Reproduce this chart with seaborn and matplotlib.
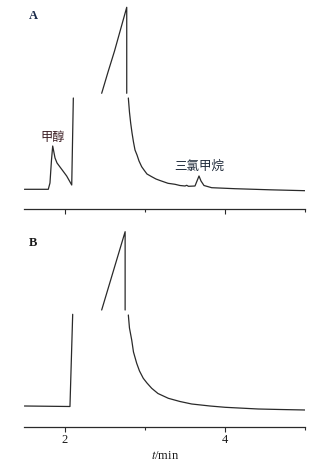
import numpy as np
import pandas as pd
import matplotlib
matplotlib.use("Agg")
import matplotlib.pyplot as plt
import seaborn as sns

# ---- data (retention time in min, detector signal in arbitrary units) ----
# Panel A: sample with methanol and chloroform, main solvent peak off-scale (broken segments)
a_t = [1.50, 1.798, 1.819, 1.838, 1.853, 1.882, 1.907, 1.944, 1.981, 2.027, 2.062, 2.090, 2.110,
       2.463, 2.542, 2.623, 2.775, 2.775,
       2.795, 2.809, 2.824, 2.841, 2.859, 2.878, 2.903, 2.928, 2.961, 2.990, 3.027, 3.086,
       3.139, 3.189, 3.289, 3.376, 3.438, 3.501, 3.522, 3.544, 3.625, 3.650,
       3.675, 3.700, 3.737, 3.833, 4.123, 4.559, 5.00]
a_sig = [19.7, 19.7, 26, 49, 63, 51, 46, 42, 38, 33, 28, 24, 111,
         115.7, 137, 158, 201.7, 115.7,
         111, 97, 86, 76, 67, 59, 54, 48, 42.3, 39, 35, 32.3,
         30, 28.5, 25.7, 24.7, 23.5, 23, 23.7, 22.7, 23, 28,
         33, 28, 23.5, 21.3, 20.3, 19.2, 18.3]
a_seg = [0]*13 + [1]*5 + [2]*(len(a_t) - 18)

# Panel B: blank, main solvent peak off-scale
b_t = [1.50, 2.068, 2.102,
       2.463, 2.755, 2.755,
       2.795, 2.809, 2.837, 2.859, 2.899, 2.934, 2.981, 3.027, 3.086, 3.164, 3.293, 3.438,
       3.584, 3.812, 4.00, 4.413, 4.684, 5.00]
b_sig = [21, 20.5, 112.7,
         117, 195.3, 117,
         112, 99, 87, 75, 63.7, 56, 48.7, 44, 38.7, 33.5, 28.7, 25.5,
         23, 21, 19.7, 18, 17.5, 17]
b_seg = [0]*3 + [1]*3 + [2]*(len(b_t) - 6)

peak_labels = ["甲醇", "三氯甲烷"]
peak_label_t = [1.857, 3.684]
peak_label_sig = [71.3, 43]
panel_labels = ["A", "B"]
major_ticks = [2, 4]
minor_ticks = [3, 5]
xlabel = "$t$/min"

df_a = pd.DataFrame({"t": a_t, "signal": a_sig, "seg": a_seg})
df_b = pd.DataFrame({"t": b_t, "signal": b_sig, "seg": b_seg})

sns.set_theme(style="ticks")
plt.rcParams["font.family"] = ["Liberation Serif", "Noto Sans CJK SC", "DejaVu Sans"]
plt.rcParams["mathtext.fontset"] = "stix"

W, H = 322, 469
fig = plt.figure(figsize=(W/100, H/100), dpi=100)
left = 24.35 / W
width = 281.05 / W
axA = fig.add_axes([left, (H-209)/H, width, 209/H])
axB = fig.add_axes([left, (H-427)/H, width, 197/H])

line_kw = dict(x="t", y="signal", units="seg", estimator=None, sort=False,
               color="#2a2a2a", linewidth=0.9, legend=False)
sns.lineplot(data=df_a, ax=axA, **line_kw)
sns.lineplot(data=df_b, ax=axB, **line_kw)

for ax, ylim in ((axA, 209), (axB, 197)):
    ax.set_xlim(1.5, 5.0)
    ax.set_ylim(0, ylim)
    ax.patch.set_alpha(0)
    for s in ("top", "right", "left"):
        ax.spines[s].set_visible(False)
    ax.spines["bottom"].set_linewidth(0.9)
    ax.spines["bottom"].set_color("#2a2a2a")
    ax.set_yticks([])
    ax.set_ylabel("")
    ax.set_xticks(major_ticks)
    ax.set_xticks(minor_ticks, minor=True)
    ax.tick_params(axis="x", which="major", direction="out", length=3.8, width=0.8,
                   color="#2a2a2a", labelsize=9, pad=1.5, labelcolor="#1a1a1a")
    ax.tick_params(axis="x", which="minor", direction="out", length=2.0, width=0.8,
                   color="#2a2a2a")

axA.set_xticklabels([])
axA.set_xlabel("")
axB.set_xticklabels([str(v) for v in major_ticks])
axB.set_xlabel(xlabel, fontsize=9, labelpad=2.5, color="#1a1a1a")

cjk = ["Noto Sans CJK SC", "DejaVu Sans"]
axA.text(peak_label_t[0], peak_label_sig[0], peak_labels[0], ha="center", va="center",
         fontsize=8.8, family=cjk, color="#3a1c22")
axA.text(peak_label_t[1], peak_label_sig[1], peak_labels[1], ha="center", va="center",
         fontsize=9, family=cjk, color="#1f2a3a")
axA.text(1.611, 193, panel_labels[0], ha="center", va="center", fontsize=9,
         fontweight="bold", color="#1a2a4a")
axB.text(1.607, 184.3, panel_labels[1], ha="center", va="center", fontsize=9,
         fontweight="bold", color="#1a1a1a")

fig.savefig("out.png", dpi=100, facecolor="white")
